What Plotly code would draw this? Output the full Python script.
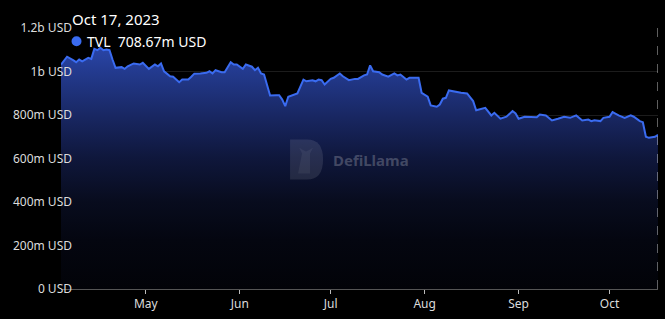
import plotly.graph_objects as go

dates = [
    "2023-04-03", "2023-04-05", "2023-04-07", "2023-04-08", "2023-04-09", "2023-04-10",
    "2023-04-12", "2023-04-13", "2023-04-14", "2023-04-15", "2023-04-16", "2023-04-17",
    "2023-04-18", "2023-04-19", "2023-04-20", "2023-04-21", "2023-04-23", "2023-04-24",
    "2023-04-25", "2023-04-27", "2023-04-29", "2023-04-30", "2023-05-02", "2023-05-04",
    "2023-05-05", "2023-05-06", "2023-05-07", "2023-05-09", "2023-05-10", "2023-05-12",
    "2023-05-13", "2023-05-15", "2023-05-16", "2023-05-17", "2023-05-19", "2023-05-21",
    "2023-05-22", "2023-05-23", "2023-05-24", "2023-05-26", "2023-05-27", "2023-05-29",
    "2023-05-30", "2023-05-31", "2023-06-02", "2023-06-03", "2023-06-05", "2023-06-06",
    "2023-06-07", "2023-06-08", "2023-06-09", "2023-06-11", "2023-06-13", "2023-06-14",
    "2023-06-15", "2023-06-16", "2023-06-17", "2023-06-19", "2023-06-20", "2023-06-22",
    "2023-06-23", "2023-06-25", "2023-06-26", "2023-06-27", "2023-06-28", "2023-06-29",
    "2023-07-01", "2023-07-02", "2023-07-04", "2023-07-05", "2023-07-07", "2023-07-09",
    "2023-07-10", "2023-07-12", "2023-07-13", "2023-07-14", "2023-07-15", "2023-07-17",
    "2023-07-18", "2023-07-20", "2023-07-22", "2023-07-23", "2023-07-24", "2023-07-26",
    "2023-07-27", "2023-07-30", "2023-07-31", "2023-08-02", "2023-08-03", "2023-08-05",
    "2023-08-06", "2023-08-07", "2023-08-08", "2023-08-09", "2023-08-10", "2023-08-13",
    "2023-08-15", "2023-08-17", "2023-08-18", "2023-08-19", "2023-08-21", "2023-08-23",
    "2023-08-24", "2023-08-26", "2023-08-28", "2023-08-30", "2023-08-31", "2023-09-01",
    "2023-09-03", "2023-09-07", "2023-09-08", "2023-09-10", "2023-09-12", "2023-09-14",
    "2023-09-16", "2023-09-18", "2023-09-20", "2023-09-22", "2023-09-24", "2023-09-25",
    "2023-09-26", "2023-09-28", "2023-09-29", "2023-10-01", "2023-10-02", "2023-10-04",
    "2023-10-06", "2023-10-08", "2023-10-09", "2023-10-11", "2023-10-12", "2023-10-13",
    "2023-10-14", "2023-10-16", "2023-10-17",
]

tvl_musd = [
    1032, 1068, 1052, 1043, 1055, 1047,
    1063, 1058, 1104, 1098, 1109, 1098,
    1101, 1098, 1055, 1017, 1020, 1012,
    1024, 1037, 1032, 1040, 1012, 1032,
    1024, 1037, 1001, 978, 976, 951,
    963, 963, 976, 990, 991, 994,
    1001, 991, 1006, 997, 997, 1043,
    1032, 1032, 1012, 1032, 1022, 1006,
    1017, 991, 986, 890, 891, 891,
    871, 841, 884, 894, 899, 963,
    955, 960, 955, 963, 960, 940,
    966, 971, 991, 978, 960, 966,
    966, 982, 986, 1028, 1001, 997,
    986, 976, 991, 982, 986, 963,
    971, 971, 902, 884, 844, 838,
    848, 875, 879, 913, 910, 902,
    899, 864, 822, 825, 833, 798,
    810, 783, 792, 818, 807, 783,
    792, 790, 802, 798, 775, 783,
    792, 787, 798, 775, 779, 772,
    776, 772, 787, 792, 813, 798,
    787, 798, 792, 772, 767, 700,
    695, 700, 708.67,
]

y_tick_vals = [0, 200e6, 400e6, 600e6, 800e6, 1000e6, 1200e6]
y_tick_text = ["0 USD", "200m USD", "400m USD", "600m USD", "800m USD", "1b USD", "1.2b USD"]

hover_date_label = "Oct 17, 2023"
hover_series = "TVL"
hover_value_label = "708.67m USD"

line_color = "#3a6bf0"
font_family = "Noto Sans, Open Sans, sans-serif"

fig = go.Figure()
fig.add_trace(go.Scatter(
    x=dates,
    y=[v * 1e6 for v in tvl_musd],
    mode="lines",
    line=dict(color=line_color, width=2),
    fill="tozeroy",
    fillgradient=dict(
        type="vertical",
        start=0,
        stop=1.12e9,
        colorscale=[
            [0.0, "rgb(2,3,8)"],
            [0.2, "rgb(4,6,16)"],
            [0.36, "rgb(8,12,30)"],
            [0.54, "rgb(15,23,60)"],
            [0.70, "rgb(24,38,96)"],
            [0.89, "rgb(35,58,142)"],
            [1.0, "rgb(42,70,170)"],
        ],
    ),
    hoverinfo="skip",
    showlegend=False,
))

fig.update_layout(
    width=665, height=319,
    margin=dict(l=61, r=7, t=28, b=30),
    paper_bgcolor="#000000",
    plot_bgcolor="#000000",
    font=dict(family=font_family, color="#dcdcdc", size=12),
    xaxis=dict(
        range=["2023-04-03", "2023-10-17"],
        dtick="M1",
        tick0="2023-05-01",
        tickformat="%b",
        ticks="outside",
        ticklen=4,
        tickcolor="#bbbbbb",
        showgrid=False,
        showline=True,
        linecolor="#555555",
        linewidth=1,
        zeroline=False,
        tickfont=dict(size=12, color="#dcdcdc"),
    ),
    yaxis=dict(
        range=[0, 1.2e9],
        tickvals=y_tick_vals,
        ticktext=y_tick_text,
        showgrid=True,
        gridcolor="rgba(255,255,255,0.11)",
        gridwidth=1,
        zeroline=False,
        showline=False,
        ticks="",
        layer="above traces",
        ticklabelstandoff=-12,
        tickfont=dict(size=12, color="#dcdcdc"),
    ),
)

# hover axis pointer line
fig.add_shape(type="line", xref="x", yref="paper", x0=dates[-1], x1=dates[-1], y0=0, y1=1,
              line=dict(color="rgba(255,255,255,0.75)", width=1, dash="dash"))

# tooltip-like header
fig.add_annotation(xref="paper", yref="paper", x=0.0155, y=1.033, xanchor="left", yanchor="middle",
                   text=hover_date_label, showarrow=False, font=dict(size=15, color="#ffffff"))
fig.add_shape(type="circle", xref="paper", yref="paper", xsizemode="pixel", ysizemode="pixel",
              xanchor=0.026, yanchor=0.949, x0=-5, x1=5, y0=-5, y1=5,
              fillcolor=line_color, line=dict(width=0), layer="above")
fig.add_annotation(xref="paper", yref="paper", x=0.0405, y=0.949, xanchor="left", yanchor="middle",
                   text="%s  %s" % (hover_series, hover_value_label),
                   showarrow=False, font=dict(size=14, color="#ffffff"))

# watermark
fig.add_shape(type="path", xref="paper", yref="paper", xsizemode="pixel", ysizemode="pixel",
              xanchor=0.4105, yanchor=0.496,
              path="M -16,-20 L 1,-20 Q 17,-20 17,0 Q 17,20 1,20 L -16,20 Z",
              fillcolor="rgba(255,255,255,0.10)", line=dict(width=0), layer="above")
fig.add_shape(type="path", xref="paper", yref="paper", xsizemode="pixel", ysizemode="pixel",
              xanchor=0.4105, yanchor=0.496,
              path="M -8,-14 L 4,-14 L 4,6 L 7,12 L 4,10 L 0,8 L -4,10 L -7,12 L -4,6 Z",
              fillcolor="rgba(255,255,255,0.06)", line=dict(width=0), layer="above")
fig.add_annotation(xref="paper", yref="paper", x=0.453, y=0.496, xanchor="left", yanchor="middle",
                   text="<b>DefiLlama</b>", showarrow=False,
                   font=dict(size=15, color="rgba(255,255,255,0.22)"))

fig.write_html("out.html")
